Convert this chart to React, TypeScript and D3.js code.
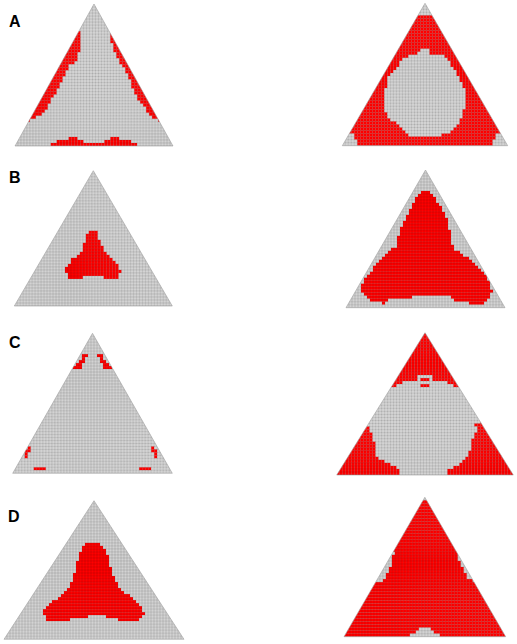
import React from 'react';
import * as d3 from 'd3';

type Pt = [number, number];
type Rect = [number, number, number, number];

// Coordinates are read inside each triangle: u = across (0..1), v = down from apex (0..1)

const labels = ['A', 'B', 'C', 'D'];

const aLeftRed: Pt[][] = [
  [[0.30, 0.19], [0.42, 0.19], [0.41, 0.30], [0.40, 0.39], [0.34, 0.44], [0.31, 0.52], [0.28, 0.59], [0.24, 0.66],
   [0.21, 0.72], [0.17, 0.77], [0.12, 0.815], [0.05, 0.83], [-0.05, 0.83]],
  [[0.58, 0.19], [0.70, 0.19], [1.05, 0.83], [0.95, 0.83], [0.891, 0.814], [0.863, 0.784], [0.832, 0.748], [0.80, 0.701],
   [0.768, 0.654], [0.747, 0.607], [0.726, 0.536], [0.695, 0.466], [0.667, 0.419], [0.642, 0.348], [0.621, 0.325], [0.60, 0.2]],
  [[0.22, 1.05], [0.22, 0.975], [0.264, 0.975], [0.264, 0.955], [0.347, 0.955], [0.347, 0.93], [0.394, 0.93], [0.394, 0.955],
   [0.432, 0.955], [0.432, 0.975], [0.568, 0.975], [0.568, 0.955], [0.60, 0.955], [0.60, 0.93], [0.653, 0.93], [0.653, 0.955],
   [0.737, 0.955], [0.737, 0.975], [0.779, 0.975], [0.779, 1.05]],
];

const aRightGray: Pt[][] = [
  [[0.3, -0.1], [0.7, -0.1], [0.7, 0.09], [0.3, 0.09]],
  [[-0.1, 1.1], [-0.05, 0.88], [0.03, 0.90], [0.07, 0.93], [0.09, 0.96], [0.09, 1.1]],
  [[0.91, 1.1], [0.91, 0.96], [0.93, 0.93], [0.97, 0.90], [1.05, 0.88], [1.1, 1.1]],
  [[0.496, 0.323], [0.520, 0.328], [0.530, 0.351], [0.601, 0.356], [0.641, 0.386], [0.661, 0.433], [0.685, 0.480],
   [0.712, 0.520], [0.726, 0.585], [0.742, 0.609], [0.752, 0.679], [0.738, 0.726], [0.732, 0.785], [0.712, 0.824],
   [0.681, 0.867], [0.651, 0.902], [0.601, 0.925], [0.57, 0.937], [0.419, 0.937], [0.389, 0.909], [0.349, 0.871],
   [0.302, 0.824], [0.268, 0.785], [0.258, 0.726], [0.248, 0.679], [0.248, 0.609], [0.268, 0.581], [0.278, 0.520],
   [0.329, 0.457], [0.359, 0.403], [0.399, 0.370], [0.460, 0.347], [0.484, 0.328]],
];

const bLeftRed: Pt[][] = [
  [[0.475, 0.446], [0.525, 0.446], [0.532, 0.488], [0.549, 0.525], [0.559, 0.574], [0.589, 0.616], [0.627, 0.648],
   [0.658, 0.697], [0.673, 0.734], [0.662, 0.796], [0.563, 0.800], [0.553, 0.778], [0.441, 0.778], [0.432, 0.800],
   [0.342, 0.800], [0.327, 0.746], [0.331, 0.704], [0.363, 0.660], [0.395, 0.631], [0.426, 0.591], [0.437, 0.549],
   [0.454, 0.507], [0.462, 0.475]],
];

const bRightRed: Pt[][] = [
  [[0.480, 0.157], [0.528, 0.157], [0.560, 0.206], [0.591, 0.254], [0.623, 0.315], [0.644, 0.387], [0.654, 0.460],
   [0.665, 0.533], [0.686, 0.581], [0.738, 0.617], [0.769, 0.642], [0.801, 0.678], [0.843, 0.726], [0.874, 0.763],
   [0.906, 0.823], [0.916, 0.884], [0.895, 0.932], [0.853, 0.981], [0.780, 0.981], [0.769, 0.956], [0.665, 0.944],
   [0.654, 0.920], [0.560, 0.908], [0.455, 0.908], [0.434, 0.920], [0.350, 0.932], [0.256, 0.944], [0.245, 0.969],
   [0.161, 0.964], [0.119, 0.920], [0.099, 0.884], [0.099, 0.835], [0.119, 0.799], [0.140, 0.763], [0.182, 0.702],
   [0.203, 0.666], [0.245, 0.617], [0.266, 0.586], [0.319, 0.562], [0.329, 0.484], [0.350, 0.412], [0.382, 0.339],
   [0.403, 0.278], [0.430, 0.230], [0.455, 0.182]],
];

const cLeftRed: Rect[] = [
  [0.435, 0.15, 0.47, 0.17], [0.435, 0.17, 0.45, 0.19], [0.415, 0.19, 0.45, 0.21], [0.40, 0.21, 0.43, 0.23], [0.38, 0.23, 0.43, 0.25],
  [0.53, 0.15, 0.565, 0.17], [0.55, 0.17, 0.565, 0.19], [0.55, 0.19, 0.585, 0.21], [0.57, 0.21, 0.60, 0.23], [0.57, 0.23, 0.62, 0.25],
  [0.095, 0.80, 0.115, 0.85], [0.075, 0.83, 0.095, 0.895], [0.13, 0.955, 0.21, 0.98],
  [0.87, 0.80, 0.885, 0.85], [0.885, 0.83, 0.905, 0.895], [0.787, 0.955, 0.871, 0.98],
];

const cRightGray: Pt[][] = [
  [[0.255, 0.403], [0.302, 0.391], [0.340, 0.368], [0.377, 0.344], [0.453, 0.337], [0.455, 0.298], [0.545, 0.298],
   [0.545, 0.337], [0.594, 0.344], [0.642, 0.356], [0.674, 0.379], [0.745, 0.391], [0.840, 0.614], [0.783, 0.637],
   [0.792, 0.684], [0.774, 0.719], [0.764, 0.778], [0.755, 0.836], [0.736, 0.883], [0.708, 0.913], [0.670, 0.941],
   [0.632, 0.965], [0.628, 1.01], [0.364, 1.01], [0.358, 0.965], [0.326, 0.941], [0.283, 0.913], [0.236, 0.883],
   [0.217, 0.848], [0.213, 0.778], [0.198, 0.707], [0.179, 0.660], [0.142, 0.614], [0.236, 0.391]],
];
const cRightRed: Rect[] = [[0.475, 0.32, 0.525, 0.34], [0.475, 0.362, 0.525, 0.383]];

const dLeftRed: Pt[][] = [
  [[0.478, 0.303], [0.519, 0.303], [0.543, 0.320], [0.567, 0.356], [0.580, 0.404], [0.589, 0.476], [0.607, 0.548],
   [0.626, 0.596], [0.654, 0.644], [0.691, 0.680], [0.728, 0.728], [0.756, 0.760], [0.778, 0.800], [0.785, 0.825],
   [0.759, 0.849], [0.756, 0.880], [0.635, 0.880], [0.626, 0.856], [0.543, 0.832], [0.463, 0.832], [0.456, 0.856],
   [0.367, 0.856], [0.357, 0.880], [0.237, 0.880], [0.237, 0.837], [0.215, 0.825], [0.219, 0.800], [0.241, 0.764],
   [0.274, 0.728], [0.311, 0.692], [0.348, 0.644], [0.376, 0.584], [0.394, 0.500], [0.413, 0.416], [0.431, 0.356],
   [0.450, 0.320]],
];

const dRightGray: Pt[][] = [
  [[0.45, -0.1], [0.55, -0.1], [0.55, 0.02], [0.45, 0.02]],
  [[0.254, 0.378], [0.311, 0.390], [0.299, 0.450], [0.285, 0.498], [0.270, 0.545], [0.254, 0.581], [0.233, 0.605], [0.151, 0.605]],
  [[0.728, 0.378], [0.697, 0.397], [0.711, 0.450], [0.728, 0.498], [0.748, 0.545], [0.769, 0.581], [0.800, 0.605], [0.872, 0.605]],
  [[0.414, 1.05], [0.414, 0.981], [0.439, 0.981], [0.439, 0.964], [0.464, 0.964], [0.464, 0.940], [0.491, 0.940],
   [0.491, 0.928], [0.522, 0.928], [0.522, 0.940], [0.542, 0.940], [0.542, 0.964], [0.563, 0.964], [0.563, 0.981],
   [0.584, 0.981], [0.584, 1.05]],
];

const rectPoly = (r: Rect): Pt[] => [[r[0], r[1]], [r[2], r[1]], [r[2], r[3]], [r[0], r[3]]];

const GRAY = '#d3d3d3';
const RED = '#ff0000';

type Layer = { color: string; shapes: Pt[][] };
type Panel = { box: [number, number, number, number]; base: string; layers: Layer[] };

const panels: Panel[] = [
  { box: [15, 4, 173, 146], base: GRAY, layers: [{ color: RED, shapes: aLeftRed }] },
  { box: [342.3, 3.3, 507.7, 145.7], base: RED, layers: [{ color: GRAY, shapes: aRightGray }] },
  { box: [14.3, 170.7, 172.3, 306], base: GRAY, layers: [{ color: RED, shapes: bLeftRed }] },
  { box: [346, 170, 505, 307.7], base: GRAY, layers: [{ color: RED, shapes: bRightRed }] },
  { box: [12.7, 333.3, 172.3, 473.3], base: GRAY, layers: [{ color: RED, shapes: cLeftRed.map(rectPoly) }] },
  { box: [336.7, 332.7, 513.3, 475], base: RED, layers: [{ color: GRAY, shapes: cRightGray }, { color: RED, shapes: cRightRed.map(rectPoly) }] },
  { box: [4, 500.7, 184, 639.3], base: GRAY, layers: [{ color: RED, shapes: dLeftRed }] },
  { box: [344, 497.3, 505.7, 636.7], base: RED, layers: [{ color: GRAY, shapes: dRightGray }] },
];

const labelPos: Pt[] = [[9, 27], [9, 183], [9, 348], [8, 522]];

function TriPanel({ p, idx }: { p: Panel; idx: number }) {
  const [x0, y0, x1, y1] = p.box;
  const xs = d3.scaleLinear().domain([0, 1]).range([x0, x1]);
  const ys = d3.scaleLinear().domain([0, 1]).range([y0, y1]);
  const cols = Math.round((x1 - x0) / 3);
  const rows = Math.round((y1 - y0) / 3);
  const cells: { x: number; y: number; w: number; h: number; c: string }[] = [];
  for (let r = 0; r < rows; r++) {
    const v0 = r / rows, v1 = (r + 1) / rows;
    for (let c = 0; c < cols; c++) {
      const u0 = c / cols, u1 = (c + 1) / cols;
      if (u1 < 0.5 - 0.5 * v1 || u0 > 0.5 + 0.5 * v1) continue;
      const pt: Pt = [(u0 + u1) / 2, (v0 + v1) / 2];
      let col = p.base;
      p.layers.forEach((l) => {
        if (l.shapes.some((s) => d3.polygonContains(s, pt))) col = l.color;
      });
      cells.push({ x: xs(u0), y: ys(v0), w: xs(u1) - xs(u0), h: ys(v1) - ys(v0), c: col });
    }
  }
  const grid = d3.path();
  for (let c = 0; c <= cols; c++) { grid.moveTo(xs(c / cols), y0); grid.lineTo(xs(c / cols), y1); }
  for (let r = 0; r <= rows; r++) { grid.moveTo(x0, ys(r / rows)); grid.lineTo(x1, ys(r / rows)); }
  const tri = `M${xs(0.5)},${ys(0)}L${xs(1)},${ys(1)}L${xs(0)},${ys(1)}Z`;
  const id = `clip${idx}`;
  return (
    <g>
      <clipPath id={id}><path d={tri} /></clipPath>
      <g clipPath={`url(#${id})`}>
        {cells.map((d, i) => (
          <rect key={i} x={d.x} y={d.y} width={d.w + 0.05} height={d.h + 0.05} fill={d.c} />
        ))}
        <path d={grid.toString()} stroke="rgba(0,0,0,0.2)" strokeWidth={0.6} fill="none" />
      </g>
      <path d={tri} fill="none" stroke="#a0a0a0" strokeWidth={0.6} />
    </g>
  );
}

export default function App() {
  return (
    <svg width={517} height={644} style={{ position: 'absolute', left: 0, top: 0, background: '#fff' }}>
      {panels.map((p, i) => <TriPanel key={i} p={p} idx={i} />)}
      {labels.map((t, i) => (
        <text key={t} x={labelPos[i][0]} y={labelPos[i][1]} fontFamily="Liberation Sans, Arial, sans-serif"
          fontWeight="bold" fontSize={16} fill="#000">{t}</text>
      ))}
    </svg>
  );
}
